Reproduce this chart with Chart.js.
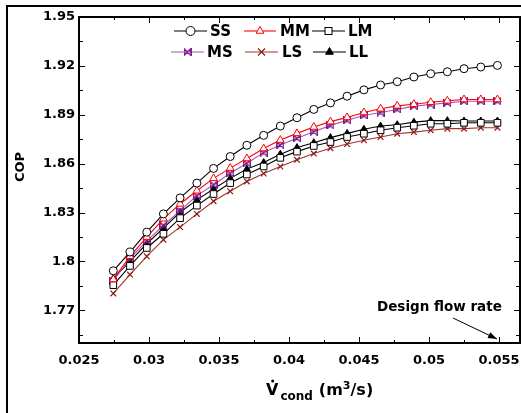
<!DOCTYPE html>
<html><head><meta charset="utf-8">
<script src="https://cdn.jsdelivr.net/npm/chart.js@4.4.0/dist/chart.umd.min.js"></script>
<style>html,body{margin:0;padding:0;background:#fff;}#wrap{width:521px;height:413px;}</style>
</head><body><div id="wrap"><canvas id="c" width="521" height="413"></canvas></div>
<script>
// ---- data ----
const flowRates = [0.02745, 0.02864, 0.02984, 0.03103, 0.03222, 0.03342, 0.03461, 0.03580, 0.03699, 0.03819, 0.03938, 0.04057,
                   0.04177, 0.04296, 0.04415, 0.04535, 0.04654, 0.04773, 0.04892, 0.05012, 0.05131, 0.05250, 0.05370, 0.05489];
const copSS = [1.7943, 1.8058, 1.8180, 1.8292, 1.8390, 1.8481, 1.8571, 1.8644, 1.8713, 1.8774, 1.8831, 1.8882,
               1.8933, 1.8973, 1.9014, 1.9053, 1.9083, 1.9103, 1.9132, 1.9152, 1.9164, 1.9183, 1.9193, 1.9203];
const copMM = [1.7890, 1.8032, 1.8150, 1.8262, 1.8353, 1.8434, 1.8510, 1.8573, 1.8632, 1.8693, 1.8745, 1.8786,
               1.8825, 1.8858, 1.8884, 1.8914, 1.8937, 1.8955, 1.8965, 1.8977, 1.8986, 1.8994, 1.8994, 1.8994];
const copLM = [1.7855, 1.7973, 1.8083, 1.8170, 1.8266, 1.8343, 1.8414, 1.8481, 1.8534, 1.8583, 1.8636, 1.8674,
               1.8709, 1.8733, 1.8764, 1.8784, 1.8805, 1.8821, 1.8833, 1.8845, 1.8845, 1.8851, 1.8851, 1.8851];
const copMS = [1.7882, 1.8018, 1.8126, 1.8221, 1.8312, 1.8404, 1.8471, 1.8542, 1.8603, 1.8668, 1.8715, 1.8756,
               1.8796, 1.8835, 1.8866, 1.8896, 1.8914, 1.8933, 1.8953, 1.8963, 1.8973, 1.8983, 1.8983, 1.8983];
const copLS = [1.7804, 1.7920, 1.8032, 1.8134, 1.8211, 1.8292, 1.8370, 1.8431, 1.8491, 1.8540, 1.8583, 1.8624,
               1.8662, 1.8695, 1.8721, 1.8744, 1.8764, 1.8784, 1.8794, 1.8805, 1.8815, 1.8815, 1.8821, 1.8821];
const copLL = [1.7896, 1.8001, 1.8109, 1.8205, 1.8302, 1.8378, 1.8445, 1.8510, 1.8567, 1.8607, 1.8658, 1.8699,
               1.8729, 1.8760, 1.8786, 1.8811, 1.8831, 1.8839, 1.8855, 1.8864, 1.8864, 1.8862, 1.8862, 1.8862];
const seriesNames = ['SS', 'MM', 'LM', 'MS', 'LS', 'LL'];
const xTickValues = [0.025, 0.03, 0.035, 0.04, 0.045, 0.05, 0.055];
const xTickLabels = ['0.025', '0.03', '0.035', '0.04', '0.045', '0.05', '0.055'];
const yTickValues = [1.77, 1.8, 1.83, 1.86, 1.89, 1.92, 1.95];
const yTickLabels = ['1.77', '1.8', '1.83', '1.86', '1.89', '1.92', '1.95'];
const designFlow = 0.055;
const designLabel = 'Design flow rate';

// ---- styles ----
const FONT = '"DejaVu Sans", sans-serif';
const PURPLE_LINE = '#a855b5', PURPLE_MK = '#7a1a8a';
const BROWN_LINE = '#a3322c', BROWN_MK = '#8b1a14';

function bowtieCanvas(size, color) {
  const c = document.createElement('canvas');
  c.width = size; c.height = size;
  const g = c.getContext('2d');
  g.strokeStyle = color; g.lineWidth = 1.4;
  const p = 0.7, q = size - 0.7;
  g.beginPath();
  g.moveTo(p, p); g.lineTo(q, q); g.lineTo(q, p); g.lineTo(p, q); g.closePath();
  g.stroke();
  return c;
}
const bowtie = bowtieCanvas(8, PURPLE_MK);

function pts(arr) { return arr.map((v, i) => ({x: flowRates[i], y: v})); }

const datasets = [
  {label: seriesNames[0], data: pts(copSS), borderColor: '#000', pointStyle: 'circle', pointRadius: 4, pointBackgroundColor: '#fff', pointBorderColor: '#000'},
  {label: seriesNames[1], data: pts(copMM), borderColor: '#ff0000', pointStyle: 'triangle', pointRadius: 4.5, pointBackgroundColor: '#fff', pointBorderColor: '#ff0000'},
  {label: seriesNames[2], data: pts(copLM), borderColor: '#000', pointStyle: 'rect', pointRadius: 4.7, pointBackgroundColor: '#fff', pointBorderColor: '#000'},
  {label: seriesNames[3], data: pts(copMS), borderColor: PURPLE_LINE, pointStyle: bowtie, pointRadius: 4, pointBorderColor: PURPLE_MK},
  {label: seriesNames[4], data: pts(copLS), borderColor: BROWN_LINE, pointStyle: 'crossRot', pointRadius: 4, pointBorderColor: BROWN_MK, pointBorderWidth: 1.2},
  {label: seriesNames[5], data: pts(copLL), borderColor: '#000', pointStyle: 'triangle', pointRadius: 4, pointBackgroundColor: '#000', pointBorderColor: '#000'}
].map(d => Object.assign({showLine: true, borderWidth: 1.1, pointBorderWidth: 1, pointHoverRadius: d.pointRadius, clip: false}, d));

// legend marker drawing
function drawMarker(ctx, kind, x, y) {
  ctx.save();
  ctx.lineWidth = 1;
  if (kind === 'SS') {
    ctx.beginPath(); ctx.arc(x, y, 4.5, 0, Math.PI * 2);
    ctx.fillStyle = '#fff'; ctx.fill(); ctx.strokeStyle = '#000'; ctx.stroke();
  } else if (kind === 'MM' || kind === 'LL') {
    const r = 4.5;
    ctx.beginPath();
    for (let k = 0; k < 3; k++) {
      const a = k * 2 * Math.PI / 3;
      const px = x + Math.sin(a) * r, py = y - Math.cos(a) * r;
      k ? ctx.lineTo(px, py) : ctx.moveTo(px, py);
    }
    ctx.closePath();
    if (kind === 'MM') { ctx.fillStyle = '#fff'; ctx.fill(); ctx.strokeStyle = '#ff0000'; ctx.stroke(); }
    else { ctx.fillStyle = '#000'; ctx.fill(); ctx.strokeStyle = '#000'; ctx.stroke(); }
  } else if (kind === 'LM') {
    ctx.fillStyle = '#fff'; ctx.fillRect(x - 3.5, y - 3.5, 7, 7);
    ctx.strokeStyle = '#000'; ctx.strokeRect(x - 3.5, y - 3.5, 7, 7);
  } else if (kind === 'MS') {
    ctx.drawImage(bowtie, x - 4, y - 4);
  } else if (kind === 'LS') {
    ctx.strokeStyle = BROWN_MK; ctx.lineWidth = 1.2;
    ctx.beginPath(); ctx.moveTo(x - 3.5, y - 3.5); ctx.lineTo(x + 3.5, y + 3.5);
    ctx.moveTo(x + 3.5, y - 3.5); ctx.lineTo(x - 3.5, y + 3.5); ctx.stroke();
  }
  ctx.restore();
}

const legendLayout = [
  {name: 'SS', x0: 174, x1: 207, y: 31, tx: 210, color: '#000'},
  {name: 'MM', x0: 244, x1: 276, y: 31, tx: 280, color: '#ff0000'},
  {name: 'LM', x0: 312, x1: 345, y: 31, tx: 348, color: '#000'},
  {name: 'MS', x0: 171, x1: 204, y: 52, tx: 207, color: PURPLE_LINE},
  {name: 'LS', x0: 245, x1: 278, y: 52, tx: 282, color: BROWN_LINE},
  {name: 'LL', x0: 313, x1: 346, y: 52, tx: 349, color: '#000'}
];

function line(ctx, x0, y0, x1, y1) { ctx.beginPath(); ctx.moveTo(x0, y0); ctx.lineTo(x1, y1); ctx.stroke(); }

const decor = {
  id: 'decor',
  afterDatasetsDraw(chart) {
    const {ctx, chartArea: a, scales: {x, y}} = chart;
    ctx.save();
    // outer frame
    ctx.strokeStyle = '#000'; ctx.lineWidth = 2;
    line(ctx, 7, 6, 7, 413); line(ctx, 6, 6, 521, 6);
    // plot box
    ctx.strokeRect(a.left, a.top, a.right - a.left, a.bottom - a.top);
    // ticks (inward, mirrored)
    ctx.lineWidth = 1;
    xTickValues.forEach((v, i) => {
      const px = Math.round(x.getPixelForValue(v)) + 0.5;
      line(ctx, px, a.bottom, px, a.bottom - 6); line(ctx, px, a.top, px, a.top + 6);
      if (i < xTickValues.length - 1) {
        const m = Math.round(x.getPixelForValue((v + xTickValues[i + 1]) / 2)) + 0.5;
        line(ctx, m, a.bottom, m, a.bottom - 3); line(ctx, m, a.top, m, a.top + 3);
      }
    });
    yTickValues.forEach((v, i) => {
      const py = Math.round(y.getPixelForValue(v)) + 0.5;
      line(ctx, a.left, py, a.left + 6, py); line(ctx, a.right, py, a.right - 6, py);
      const prev = i === 0 ? v - (yTickValues[1] - yTickValues[0]) : yTickValues[i - 1];
      const m = Math.round(y.getPixelForValue((v + prev) / 2)) + 0.5;
      line(ctx, a.left, m, a.left + 4, m); line(ctx, a.right, m, a.right - 4, m);
    });
    // legend
    legendLayout.forEach(it => {
      ctx.strokeStyle = it.color; ctx.lineWidth = 1.1;
      line(ctx, it.x0, it.y, it.x1, it.y);
      drawMarker(ctx, it.name, (it.x0 + it.x1) / 2, it.y);
      ctx.fillStyle = '#000'; ctx.font = 'bold 15px ' + FONT;
      ctx.textAlign = 'left'; ctx.textBaseline = 'middle';
      ctx.fillText(it.name, it.tx, it.y + 1);
    });
    // design flow rate annotation
    ctx.font = 'bold 13.5px ' + FONT; ctx.fillStyle = '#000';
    ctx.textAlign = 'left'; ctx.textBaseline = 'alphabetic';
    ctx.fillText(designLabel, 377, 311);
    const ax = x.getPixelForValue(designFlow) - 2, ay = a.bottom - 4;
    const sx = 453, sy = 318;
    ctx.strokeStyle = '#000'; ctx.lineWidth = 1;
    line(ctx, sx, sy, ax, ay);
    const ang = Math.atan2(ay - sy, ax - sx), L = 9, W = 3.2;
    ctx.beginPath();
    ctx.moveTo(ax, ay);
    ctx.lineTo(ax - L * Math.cos(ang) + W * Math.sin(ang), ay - L * Math.sin(ang) - W * Math.cos(ang));
    ctx.lineTo(ax - L * Math.cos(ang) - W * Math.sin(ang), ay - L * Math.sin(ang) + W * Math.cos(ang));
    ctx.closePath(); ctx.fillStyle = '#000'; ctx.fill();
    // y title
    ctx.save();
    ctx.translate(24, 167); ctx.rotate(-Math.PI / 2);
    ctx.font = 'bold 13px ' + FONT; ctx.textAlign = 'center'; ctx.textBaseline = 'alphabetic';
    ctx.fillText('COP', 0, 0);
    ctx.restore();
    // x title: V-dot with subscript "cond" and (m^3/s)
    ctx.textAlign = 'left'; ctx.textBaseline = 'alphabetic';
    let cx = 266;
    ctx.font = 'bold 16px ' + FONT;
    ctx.fillText('V', cx, 395);
    const wV = ctx.measureText('V').width;
    ctx.beginPath(); ctx.arc(cx + wV / 2 + 0.5, 381, 1.5, 0, Math.PI * 2); ctx.fill();
    cx += wV + 2;
    ctx.font = 'bold 12px ' + FONT;
    ctx.fillText('cond', cx, 400);
    cx += ctx.measureText('cond').width + 6;
    ctx.font = 'bold 16px ' + FONT;
    ctx.fillText('(m', cx, 395);
    cx += ctx.measureText('(m').width;
    ctx.font = 'bold 11px ' + FONT;
    ctx.fillText('3', cx, 389);
    cx += ctx.measureText('3').width;
    ctx.font = 'bold 16px ' + FONT;
    ctx.fillText('/s)', cx, 395);
    ctx.restore();
  }
};

function noPad(s) { s.paddingLeft = 0; s.paddingRight = 0; s.paddingTop = 0; s.paddingBottom = 0; }

new Chart(document.getElementById('c'), {
  type: 'scatter',
  data: {datasets},
  options: {
    responsive: false, animation: false, devicePixelRatio: 1,
    layout: {autoPadding: false, padding: {left: 0, right: 1, top: 17, bottom: 0}},
    plugins: {legend: {display: false}, tooltip: {enabled: false}},
    scales: {
      x: {
        type: 'linear', min: 0.025, max: 0.0565,
        grid: {display: false, drawTicks: false}, border: {display: false},
        afterFit(s) { s.height = 70; noPad(s); },
        afterBuildTicks(s) { s.ticks = xTickValues.map(v => ({value: v})); },
        ticks: {autoSkip: false, maxRotation: 0, padding: 10, color: '#000',
                font: {family: FONT, size: 13, weight: 'bold'},
                callback: (v, i) => xTickLabels[i]}
      },
      y: {
        type: 'linear', min: 1.75, max: 1.95,
        grid: {display: false, drawTicks: false}, border: {display: false},
        afterFit(s) { s.width = 79; noPad(s); },
        afterBuildTicks(s) { s.ticks = yTickValues.map(v => ({value: v})); },
        ticks: {autoSkip: false, padding: 4, color: '#000',
                font: {family: FONT, size: 13, weight: 'bold'},
                callback: (v, i) => yTickLabels[i]}
      }
    }
  },
  plugins: [decor]
});
</script></body></html>
